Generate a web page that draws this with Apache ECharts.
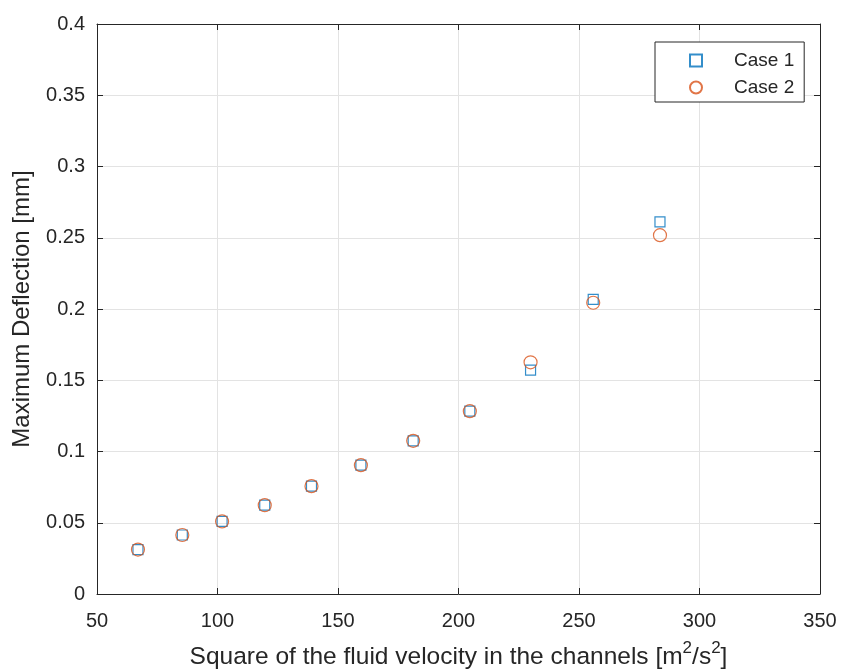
<!DOCTYPE html>
<html>
<head>
<meta charset="utf-8">
<script src="https://cdn.jsdelivr.net/npm/echarts@6/dist/echarts.min.js"></script>
<style>
html,body{margin:0;padding:0;background:#fff;}
#chart{width:842px;height:671px;}
</style>
</head>
<body>
<div id="chart"></div>
<script>
// ---- data ----
const velocitySquared = [67.0, 85.4, 101.9, 119.6, 139.0, 159.5, 181.2, 204.7, 229.9, 255.9, 283.6];
const case1Deflection = [0.0312, 0.0414, 0.0509, 0.0623, 0.0757, 0.0904, 0.1075, 0.1283, 0.1571, 0.2068, 0.2611];
const case2Deflection = [0.0312, 0.0414, 0.0509, 0.0623, 0.0757, 0.0904, 0.1075, 0.1283, 0.1626, 0.2044, 0.2518];
const seriesNames = ['Case 1', 'Case 2'];
const xTickLabels = ['50', '100', '150', '200', '250', '300', '350'];
const yTickLabels = ['0', '0.05', '0.1', '0.15', '0.2', '0.25', '0.3', '0.35', '0.4'];
const xAxisTitle = 'Square of the fluid velocity in the channels [m';
const yAxisTitle = 'Maximum Deflection [mm]';

const FONT = '"Liberation Sans", Arial, Helvetica, sans-serif';
const AX = '#262626';
const GRIDC = '#e3e3e3';
const BLUE = '#0072BD';
const ORANGE = '#D95319';

const xMin = Number(xTickLabels[0]), xMax = Number(xTickLabels[xTickLabels.length - 1]);
const xStep = Number(xTickLabels[1]) - Number(xTickLabels[0]);
const yMin = Number(yTickLabels[0]), yMax = Number(yTickLabels[yTickLabels.length - 1]);
const yStep = Number(yTickLabels[1]) - Number(yTickLabels[0]);

const pts1 = velocitySquared.map((x, i) => [x, case1Deflection[i]]);
const pts2 = velocitySquared.map((x, i) => [x, case2Deflection[i]]);

const chart = echarts.init(document.getElementById('chart'), null, {renderer: 'canvas'});

const baseX = {
  type: 'value', min: xMin, max: xMax, interval: xStep,
  axisLine: {show: true, onZero: false, lineStyle: {color: AX, width: 1}},
  axisTick: {show: true, inside: true, length: 6, lineStyle: {color: AX}},
};
const baseY = {
  type: 'value', min: yMin, max: yMax, interval: yStep,
  axisLine: {show: true, onZero: false, lineStyle: {color: AX, width: 1}},
  axisTick: {show: true, inside: true, length: 6, lineStyle: {color: AX}},
};

chart.setOption({
  backgroundColor: '#fff',
  animation: false,
  textStyle: {fontFamily: FONT},
  grid: {left: 97, right: 22, top: 24, bottom: 77, containLabel: false, outerBoundsMode: 'none'},
  legend: {
    orient: 'vertical',
    left: 655, top: 42,
    data: [
      {name: seriesNames[0], icon: 'rect'},
      {name: seriesNames[1], icon: 'circle'}
    ],
    itemWidth: 12, itemHeight: 12, itemGap: 8,
    padding: [9, 10, 5, 34],
    backgroundColor: '#fff',
    borderColor: AX, borderWidth: 1, borderRadius: 0,
    textStyle: {fontSize: 19, color: AX, fontFamily: FONT, padding: [0, 0, 0, 27]}
  },
  xAxis: [
    Object.assign({}, baseX, {
      position: 'bottom',
      name: '{t|' + xAxisTitle + '}{s|2}{t|/s}{s|2}{t|]}',
      nameLocation: 'middle', nameGap: 46,
      nameTextStyle: {
        fontFamily: FONT,
        rich: {
          t: {fontSize: 24.5, color: AX, fontFamily: FONT, lineHeight: 30, verticalAlign: 'bottom'},
          s: {fontSize: 17, color: AX, fontFamily: FONT, lineHeight: 30, verticalAlign: 'top'}
        }
      },
      axisLabel: {show: true, color: AX, fontSize: 20, fontFamily: FONT, margin: 17,
        formatter: v => xTickLabels[Math.round((v - xMin) / xStep)]},
      splitLine: {show: true, lineStyle: {color: GRIDC, width: 1}}
    }),
    Object.assign({}, baseX, {
      position: 'top',
      axisLabel: {show: false},
      splitLine: {show: false}
    })
  ],
  yAxis: [
    Object.assign({}, baseY, {
      position: 'left',
      name: yAxisTitle,
      nameLocation: 'middle', nameGap: 63,
      nameTextStyle: {fontSize: 24, color: AX, fontFamily: FONT},
      axisLabel: {show: true, color: AX, fontSize: 20, fontFamily: FONT, margin: 12,
        padding: [3, 0, 0, 0],
        formatter: v => yTickLabels[Math.round((v - yMin) / yStep)]},
      splitLine: {show: true, lineStyle: {color: GRIDC, width: 1}}
    }),
    Object.assign({}, baseY, {
      position: 'right',
      axisLabel: {show: false},
      splitLine: {show: false}
    })
  ],
  series: [
    {
      name: seriesNames[0], type: 'scatter', xAxisIndex: 0, yAxisIndex: 0,
      symbol: 'rect', symbolSize: 10,
      itemStyle: {color: 'rgba(255,255,255,0)', borderColor: BLUE, borderWidth: 1.2},
      data: pts1, z: 3
    },
    {
      name: seriesNames[1], type: 'scatter', xAxisIndex: 0, yAxisIndex: 0,
      symbol: 'circle', symbolSize: 13,
      itemStyle: {color: 'rgba(255,255,255,0)', borderColor: ORANGE, borderWidth: 1.2},
      data: pts2, z: 4
    }
  ]
});
</script>
</body>
</html>
